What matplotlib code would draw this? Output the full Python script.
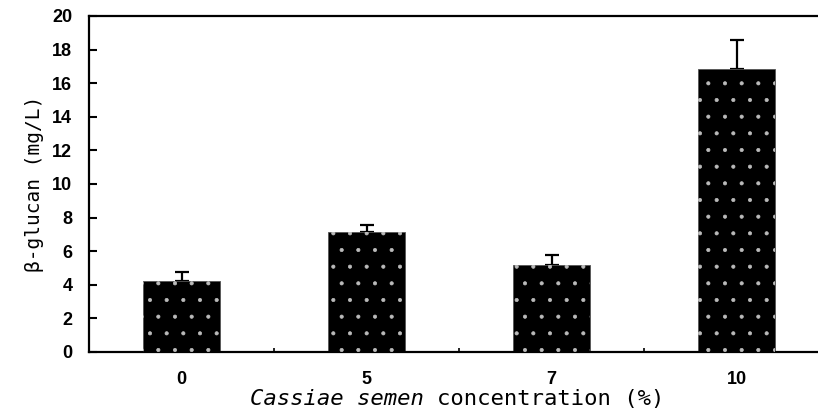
import matplotlib.pyplot as plt
import numpy as np

# concentration of Cassiae semen (%) and measured beta-glucan (mg/L)
concentrations = ['0', '5', '7', '10']
glucan = [4.2, 7.15, 5.15, 16.85]
glucan_err = [0.55, 0.4, 0.6, 1.7]

plt.rcParams['hatch.linewidth'] = 0.5
plt.rcParams['hatch.color'] = '#bbbbbb'

W, H = 818, 412
fig = plt.figure(figsize=(W / 100, H / 100), dpi=100)
# the frame runs past the right edge of the picture, as in the original
ax = fig.add_axes([89 / W, 1 - 352 / H, 740 / W, 336 / H])

x = np.arange(len(concentrations))
ax.bar(x, glucan, width=0.415, color='black', edgecolor='#555555', linewidth=0.6,
       zorder=2)
# sparse light dots inside the bars
ax.bar(x, glucan, width=0.415, color='none', edgecolor='#bbbbbb', linewidth=0,
       hatch='.', zorder=3)
ax.errorbar(x, glucan, yerr=[np.zeros(len(glucan)), glucan_err], fmt='none',
            ecolor='black', elinewidth=1.6, capsize=5, capthick=1.6, zorder=1)

ax.set_xlim(-0.5, len(concentrations) - 0.5)
ax.set_ylim(0, 20)
ax.set_yticks(range(0, 21, 2))
ax.set_xticks(x)
ax.set_xticklabels(concentrations)
ax.set_xticks(x[:-1] + 0.5, minor=True)

for side in ['top', 'left', 'bottom', 'right']:
    ax.spines[side].set_linewidth(1.6)

ax.tick_params(axis='y', direction='in', length=6, width=1.5, pad=12)
ax.tick_params(axis='x', which='major', length=0, pad=14)
ax.tick_params(axis='x', which='minor', direction='in', length=3, width=1.2)
for lab in ax.get_xticklabels() + ax.get_yticklabels():
    lab.set_fontfamily('Liberation Sans')
    lab.set_fontweight('bold')
    lab.set_fontsize(13)

ax.set_ylabel('β-glucan (mg/L)', family='DejaVu Sans Mono', fontsize=14,
              labelpad=6)

# x label: italic species name followed by plain text, monospaced
fs = 16
char_w = 0.602 * fs * 100 / 72
label_it = 'Cassiae semen '
label_rm = 'concentration (%)'
x0 = 457 - (len(label_it) + len(label_rm)) * char_w / 2
fig.text(x0 / W, 7 / H, label_it, family='DejaVu Sans Mono', style='italic',
         fontsize=fs, va='baseline', ha='left')
fig.text((x0 + len(label_it) * char_w) / W, 7 / H, label_rm,
         family='DejaVu Sans Mono', fontsize=fs, va='baseline', ha='left')

fig.savefig('out.png', dpi=100)
